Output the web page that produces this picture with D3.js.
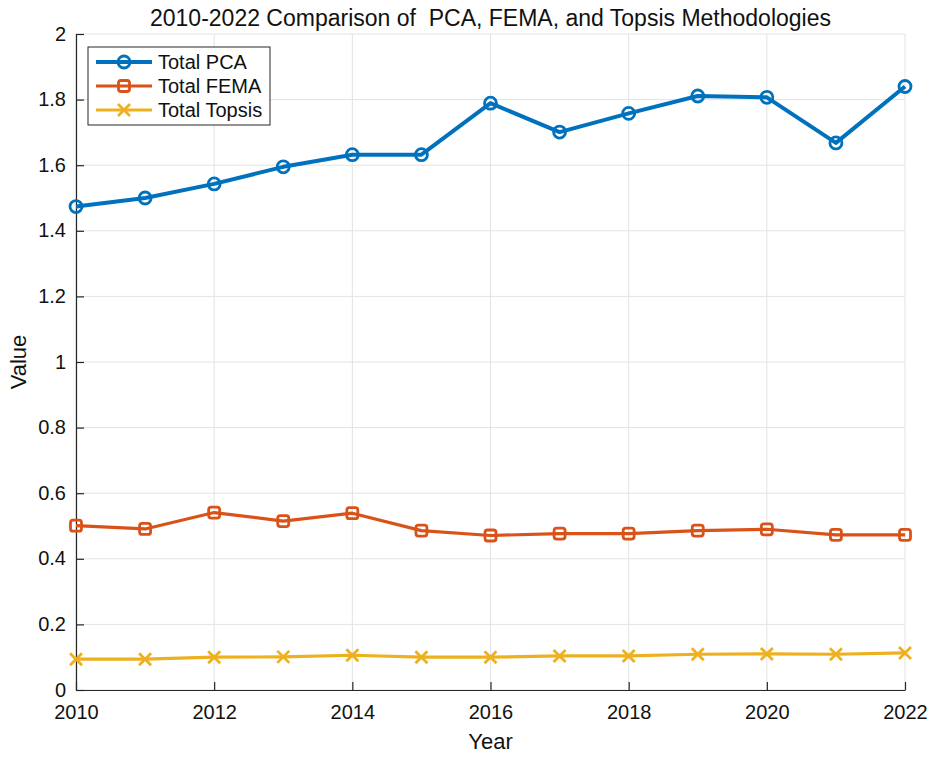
<!DOCTYPE html>
<html>
<head>
<meta charset="utf-8">
<script src="https://cdn.jsdelivr.net/npm/d3@7"></script>
<style>
  body { margin: 0; background: #fff; }
  svg { display: block; font-family: "Liberation Sans", Arial, sans-serif; }
</style>
</head>
<body>
<svg></svg>
<script>
const width = 935;
const height = 760;

/* ---------- data ---------- */
const years = [2010, 2011, 2012, 2013, 2014, 2015, 2016, 2017, 2018, 2019, 2020, 2021, 2022];
const pca    = [1.474, 1.500, 1.543, 1.595, 1.632, 1.632, 1.789, 1.701, 1.758, 1.811, 1.807, 1.668, 1.840];
const fema   = [0.501, 0.491, 0.541, 0.515, 0.539, 0.486, 0.471, 0.477, 0.477, 0.486, 0.490, 0.473, 0.473];
const topsis = [0.094, 0.094, 0.100, 0.101, 0.106, 0.100, 0.100, 0.104, 0.104, 0.109, 0.110, 0.109, 0.113];

const xTicks = [2010, 2012, 2014, 2016, 2018, 2020, 2022];
const yTicks = [0, 0.2, 0.4, 0.6, 0.8, 1, 1.2, 1.4, 1.6, 1.8, 2];

const series = [
  { name: "Total PCA",    values: pca,    color: "#0072BD", marker: "circle", lw: 4 },
  { name: "Total FEMA",   values: fema,   color: "#D95319", marker: "square", lw: 3.2 },
  { name: "Total Topsis", values: topsis, color: "#EDB120", marker: "cross",  lw: 3.2 }
];

/* ---------- layout ---------- */
const M = { left: 76, right: 30, top: 34, bottom: 70 };
const x = d3.scaleLinear().domain([2010, 2022]).range([M.left, width - M.right]);
const y = d3.scaleLinear().domain([0, 2]).range([height - M.bottom, M.top]);

const AXIS = "#262626";
const GRID = "#e3e3e3";

const svg = d3.select("svg").attr("width", width).attr("height", height);

/* grid */
svg.append("g")
  .selectAll("line.gx")
  .data(xTicks)
  .join("line")
  .attr("x1", d => x(d)).attr("x2", d => x(d))
  .attr("y1", y(0)).attr("y2", y(2))
  .attr("stroke", GRID).attr("stroke-width", 1);

svg.append("g")
  .selectAll("line.gy")
  .data(yTicks)
  .join("line")
  .attr("x1", x(2010)).attr("x2", x(2022))
  .attr("y1", d => y(d)).attr("y2", d => y(d))
  .attr("stroke", GRID).attr("stroke-width", 1);

/* axes (inward ticks like MATLAB) */
const fmtY = d => d3.format("~g")(d);

const xAxis = svg.append("g")
  .attr("transform", `translate(0,${y(0)})`)
  .call(d3.axisBottom(x).tickValues(xTicks).tickFormat(d3.format("d")).tickSizeInner(-8).tickSizeOuter(0).tickPadding(15));

const yAxis = svg.append("g")
  .attr("transform", `translate(${x(2010)},0)`)
  .call(d3.axisLeft(y).tickValues(yTicks).tickFormat(fmtY).tickSizeInner(-8).tickSizeOuter(0).tickPadding(10));

[xAxis, yAxis].forEach(g => {
  g.select(".domain").attr("stroke", AXIS).attr("stroke-width", 1.2);
  g.selectAll(".tick line").attr("stroke", AXIS).attr("stroke-width", 1.2);
  g.selectAll(".tick text")
    .attr("fill", "#111")
    .style("font-size", "20px")
    .style("font-family", "'Liberation Sans', Arial, sans-serif");
});
yAxis.selectAll(".tick text").attr("dy", "0.3em");

/* ---------- lines & markers ---------- */
const line = d3.line()
  .x((d, i) => x(years[i]))
  .y(d => y(d));

function drawMarker(g, type, color) {
  if (type === "circle") {
    g.append("circle").attr("r", 6)
      .attr("fill", "none").attr("stroke", color).attr("stroke-width", 2.8);
  } else if (type === "square") {
    g.append("rect").attr("x", -5.5).attr("y", -5.5).attr("width", 11).attr("height", 11)
      .attr("rx", 2.5)
      .attr("fill", "none").attr("stroke", color).attr("stroke-width", 2.8);
  } else {
    g.append("path").attr("d", "M-6,-6L6,6M-6,6L6,-6")
      .attr("fill", "none").attr("stroke", color).attr("stroke-width", 2.8);
  }
}

series.forEach(s => {
  svg.append("path")
    .datum(s.values)
    .attr("d", line)
    .attr("fill", "none")
    .attr("stroke", s.color)
    .attr("stroke-width", s.lw)
    .attr("stroke-linejoin", "round");

  svg.append("g")
    .selectAll("g")
    .data(s.values)
    .join("g")
    .attr("transform", (d, i) => `translate(${x(years[i])},${y(d)})`)
    .each(function () { drawMarker(d3.select(this), s.marker, s.color); });
});

/* ---------- title & labels ---------- */
svg.append("text")
  .attr("x", (x(2010) + x(2022)) / 2)
  .attr("y", 26)
  .attr("text-anchor", "middle")
  .style("font-size", "23px")
  .attr("fill", "#111")
  .attr("xml:space", "preserve")
  .style("white-space", "pre")
  .text("2010-2022 Comparison of  PCA, FEMA, and Topsis Methodologies");

svg.append("text")
  .attr("x", (x(2010) + x(2022)) / 2)
  .attr("y", 749)
  .attr("text-anchor", "middle")
  .style("font-size", "22px")
  .attr("fill", "#111")
  .text("Year");

svg.append("text")
  .attr("transform", `translate(26,${(y(0) + y(2)) / 2}) rotate(-90)`)
  .attr("text-anchor", "middle")
  .style("font-size", "22px")
  .attr("fill", "#111")
  .text("Value");

/* ---------- legend ---------- */
const legend = svg.append("g").attr("transform", "translate(88,47)");
legend.append("rect")
  .attr("width", 182).attr("height", 78)
  .attr("fill", "#fff").attr("stroke", AXIS).attr("stroke-width", 1);

series.forEach((s, i) => {
  const row = legend.append("g").attr("transform", `translate(0,${15 + i * 24})`);
  row.append("line")
    .attr("x1", 8).attr("x2", 64)
    .attr("stroke", s.color).attr("stroke-width", s.lw);
  const m = row.append("g").attr("transform", "translate(36,0)");
  drawMarker(m, s.marker, s.color);
  row.append("text")
    .attr("x", 70).attr("dy", "0.35em")
    .style("font-size", "20px")
    .attr("fill", "#111")
    .text(s.name);
});
</script>
</body>
</html>
